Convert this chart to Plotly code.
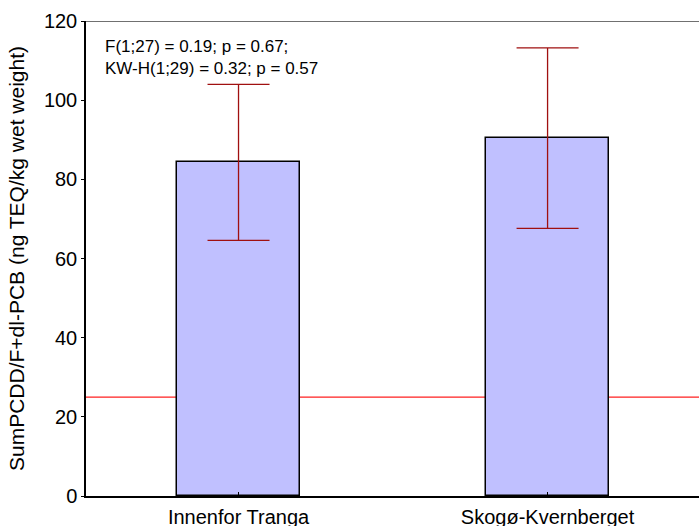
import plotly.graph_objects as go

categories = ["Innenfor Tranga", "Skogø-Kvernberget"]
means = [84.3, 90.4]
err_upper = [104.0, 113.2]
err_lower = [64.6, 67.6]
reference_level = 25
y_ticks = [0, 20, 40, 60, 80, 100, 120]
annotation_lines = ["F(1;27) = 0.19; p = 0.67;", "KW-H(1;29) = 0.32; p = 0.57"]
y_title = "SumPCDD/F+dl-PCB (ng TEQ/kg wet weight)"

xpos = list(range(len(categories)))
FONT = "Liberation Sans, Arial, sans-serif"

fig = go.Figure()
fig.add_trace(go.Bar(
    x=xpos, y=means, width=0.4,
    marker=dict(color="#c0c0ff", line=dict(color="black", width=1.5)),
    error_y=dict(
        type="data", symmetric=False,
        array=[u - m for u, m in zip(err_upper, means)],
        arrayminus=[m - l for m, l in zip(means, err_lower)],
        color="#a01010", thickness=1.3, width=31,
    ),
    showlegend=False,
))

fig.add_shape(type="line", xref="paper", x0=0, x1=1, yref="y",
              y0=reference_level, y1=reference_level,
              line=dict(color="#ff2020", width=1.3), layer="below")
fig.add_shape(type="line", xref="paper", x0=0, x1=1, yref="y",
              y0=120, y1=120, line=dict(color="#707070", width=2))

fig.add_annotation(xref="paper", yref="paper", x=0.028, y=0.97,
                   xanchor="left", yanchor="top", align="left", showarrow=False,
                   text="<br>".join(annotation_lines),
                   font=dict(family=FONT, size=17, color="black"))

fig.update_layout(
    width=699, height=526,
    margin=dict(l=86, r=0, t=21, b=30),
    paper_bgcolor="white", plot_bgcolor="white",
    font=dict(family=FONT, color="black"),
    bargap=0,
)
fig.update_xaxes(
    range=[-0.4935, 1.49], tickvals=xpos, ticktext=categories,
    showline=True, linecolor="black", linewidth=1.5,
    ticks="inside", ticklen=4, tickcolor="black", showgrid=False, zeroline=False,
    tickfont=dict(size=20, family=FONT), ticklabelstandoff=2, automargin=False,
)
fig.update_yaxes(
    range=[0, 120], tickvals=y_ticks,
    showline=True, linecolor="black", linewidth=1.5,
    ticks="outside", ticklen=3, tickcolor="black", showgrid=False, zeroline=False,
    tickfont=dict(size=20, family=FONT), automargin=False,
    title=dict(text=y_title, font=dict(size=21, family=FONT), standoff=14),
)

fig.write_html("out.html")
